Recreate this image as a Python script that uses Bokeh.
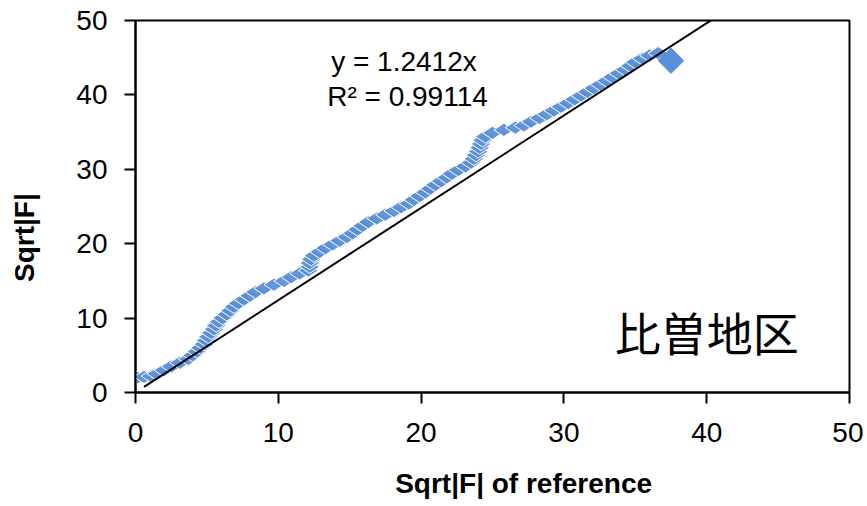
from math import pi
from bokeh.plotting import figure
from bokeh.models import Range1d, Label
from bokeh.embed import file_html
from bokeh.resources import INLINE

# --- data ---
ref_x = [0.1, 0.6, 1.1, 1.5, 2.0, 2.5, 3.1, 3.7, 4.0, 4.3,
         4.55, 4.8, 4.95, 5.1, 5.3, 5.5, 5.65, 5.85, 6.1, 6.4,
         6.65, 6.9, 7.2, 7.6, 8.0, 8.4, 9.0, 9.7, 10.4, 10.9,
         11.5, 12.1, 12.2, 12.2, 12.3, 12.5, 12.9, 13.3, 13.8, 14.3,
         14.8, 15.2, 15.55, 15.9, 16.3, 16.9, 17.5, 18.1, 18.6, 19.15,
         19.5, 19.9, 20.3, 20.65, 21.0, 21.4, 21.8, 22.15, 22.6, 23.1,
         23.5, 23.7, 23.85, 24.0, 24.1, 24.2, 24.3, 24.5, 25.0, 25.8,
         26.6, 27.2, 27.7, 28.3, 28.8, 29.3, 29.8, 30.3, 30.75, 31.2,
         31.65, 32.1, 32.55, 33.0, 33.4, 33.85, 34.3, 34.65, 35.0, 35.5,
         36.0, 36.6]
obs_y = [2.0, 2.1, 2.2, 2.5, 3.0, 3.5, 4.0, 4.5, 5.0, 5.5,
         6.0, 6.5, 7.0, 7.5, 8.0, 8.5, 9.0, 9.5, 10.0, 10.5,
         11.0, 11.5, 12.0, 12.5, 13.0, 13.5, 14.0, 14.5, 15.0, 15.5,
         16.0, 16.4, 16.9, 17.4, 17.9, 18.4, 18.9, 19.4, 19.9, 20.4,
         20.9, 21.4, 21.9, 22.4, 22.9, 23.4, 23.9, 24.4, 24.9, 25.4,
         25.9, 26.4, 26.9, 27.4, 27.9, 28.4, 28.9, 29.4, 29.9, 30.4,
         30.9, 31.4, 31.9, 32.4, 32.9, 33.4, 33.9, 34.4, 34.9, 35.3,
         35.6, 35.9, 36.4, 36.9, 37.4, 37.9, 38.4, 38.9, 39.4, 39.9,
         40.4, 40.9, 41.4, 41.9, 42.4, 42.9, 43.4, 43.9, 44.4, 44.9,
         45.3, 45.6]
last_x = [37.5]
last_y = [44.6]

fit_slope = 1.2412
fit_r2 = 0.99114
fit_x = [0.6, 40.6]
fit_y = [fit_slope * v for v in fit_x]

x_ticks = [0, 10, 20, 30, 40, 50]
y_ticks = [0, 10, 20, 30, 40, 50]
x_title = "Sqrt|F| of reference"
y_title = "Sqrt|F|"
region_name = "比曽地区"
eq_text = "y = 1.2412x"
r2_text = "R² = 0.99114"

# --- figure ---
p = figure(frame_width=714, frame_height=372,
           min_border_left=135, min_border_right=14,
           min_border_top=20, min_border_bottom=114,
           x_range=Range1d(0, 50), y_range=Range1d(0, 50),
           output_backend="svg", toolbar_location=None)
p.background_fill_color = "white"
p.border_fill_color = "white"
p.outline_line_color = "black"
p.outline_line_width = 2
p.xgrid.visible = False
p.ygrid.visible = False

font = "Liberation Sans"
for ax, ticks in ((p.xaxis, x_ticks), (p.yaxis, y_ticks)):
    ax.ticker = ticks
    ax.axis_line_width = 2
    ax.axis_line_color = "black"
    ax.major_tick_line_width = 2
    ax.major_tick_line_color = "black"
    ax.major_tick_out = 11
    ax.major_tick_in = 0
    ax.minor_tick_line_color = None
    ax.major_label_text_font = font
    ax.major_label_text_font_size = "28px"
    ax.major_label_text_color = "black"
    ax.axis_label_text_font = font
    ax.axis_label_text_font_size = "28px"
    ax.axis_label_text_font_style = "bold"
    ax.axis_label_text_color = "black"
p.xaxis.major_label_standoff = 19
p.yaxis.major_label_standoff = 17
# the reference's axis titles sit off-centre (right / lower); non-breaking
# padding on one side shifts the visible text the same way
pad = "\u00a0" * 8
p.xaxis.axis_label = pad + x_title
p.yaxis.axis_label = y_title + pad
p.xaxis.axis_label_standoff = 23
p.yaxis.axis_label_standoff = 33

blue = "#5b8fd9"
p.scatter(ref_x, obs_y, marker="diamond", angle=pi / 2, size=20,
          fill_color=blue, line_color="white", line_width=1, fill_alpha=0.95)
p.scatter(last_x, last_y, marker="square", angle=pi / 4, size=18,
          fill_color=blue, line_color=blue, line_width=1)
p.line(fit_x, fit_y, line_color="black", line_width=2)

p.add_layout(Label(x=18.8, y=44.5, text=eq_text, text_align="center",
                   text_baseline="alphabetic", text_font=font,
                   text_font_size="28px", text_color="black"))
p.add_layout(Label(x=19.05, y=39.75, text=r2_text, text_align="center",
                   text_baseline="alphabetic", text_font=font,
                   text_font_size="28px", text_color="black"))
p.add_layout(Label(x=40.0, y=8.2, text=region_name, text_align="center",
                   text_baseline="alphabetic", text_font="Noto Sans CJK JP",
                   text_font_size="46px", text_color="black"))

open("out.html", "w").write(file_html(p, INLINE))
